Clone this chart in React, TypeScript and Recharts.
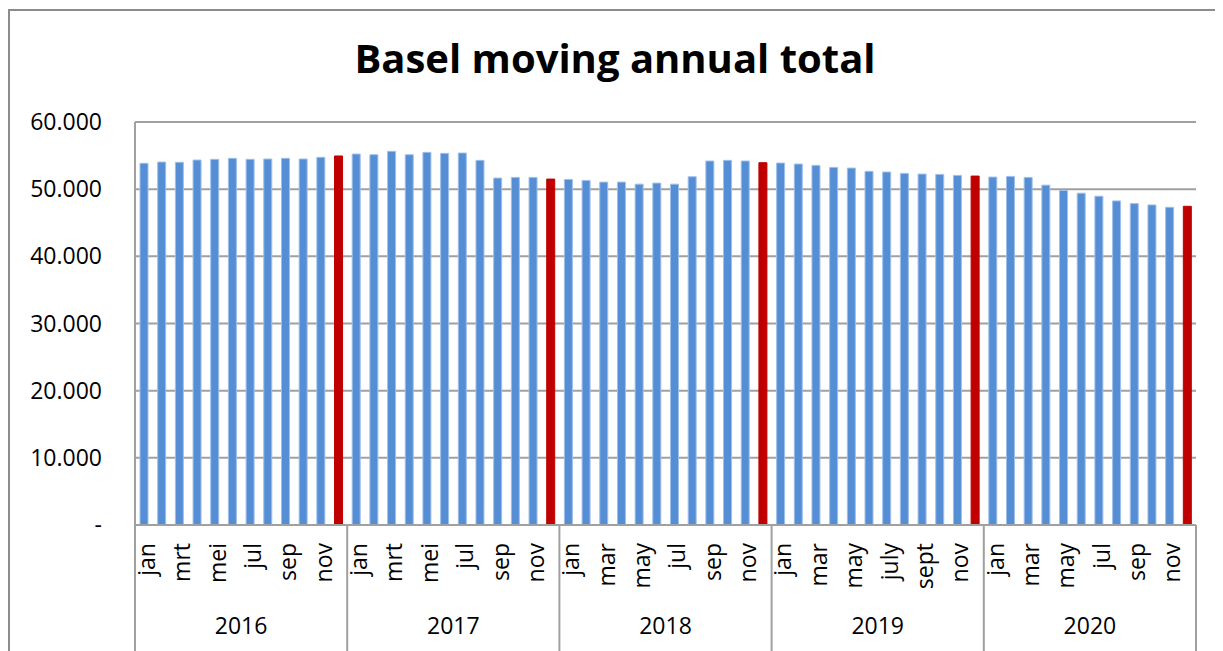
import React from "react";
import { BarChart, Bar, XAxis, YAxis, CartesianGrid, Cell } from "recharts";

const years = ["2016", "2017", "2018", "2019", "2020"];

const months2016 = ["jan", "feb", "mrt", "apr", "mei", "jun", "jul", "aug", "sep", "okt", "nov", "dec"];
const months2017 = ["jan", "feb", "mrt", "apr", "mei", "jun", "jul", "aug", "sep", "okt", "nov", "dec"];
const months2018 = ["jan", "feb", "mar", "apr", "may", "jun", "jul", "aug", "sep", "oct", "nov", "dec"];
const months2019 = ["jan", "feb", "mar", "apr", "may", "jun", "july", "aug", "sept", "oct", "nov", "dec"];
const months2020 = ["jan", "feb", "mar", "apr", "may", "jun", "jul", "aug", "sep", "oct", "nov", "dec"];

const values2016 = [53850, 54040, 54000, 54340, 54440, 54590, 54440, 54490, 54590, 54490, 54740, 54940];
const values2017 = [55230, 55130, 55630, 55130, 55480, 55330, 55380, 54290, 51650, 51750, 51750, 51500];
const values2018 = [51450, 51300, 51050, 51050, 50750, 50900, 50750, 51850, 54190, 54290, 54190, 53940];
const values2019 = [53890, 53740, 53540, 53240, 53140, 52650, 52550, 52350, 52250, 52200, 52050, 51950];
const values2020 = [51800, 51900, 51750, 50600, 49800, 49400, 48950, 48250, 47850, 47650, 47300, 47450];

const yTicks = [0, 10000, 20000, 30000, 40000, 50000, 60000];

const monthsByYear = [months2016, months2017, months2018, months2019, months2020];
const valuesByYear = [values2016, values2017, values2018, values2019, values2020];

const data = years.flatMap((yr, yi) =>
  monthsByYear[yi].map((m, mi) => ({
    key: `${yr}-${mi}`,
    year: yr,
    month: m,
    monthIndex: mi,
    value: valuesByYear[yi][mi],
  }))
);

const BLUE = "#558ED5";
const RED = "#C00000";
const GRID = "#a0a0a0";
const FRAME = "#8c8c8c";
const FONT = "'Open Sans', sans-serif";

const formatY = (v: number) => {
  if (v === 0) return "-";
  const s = String(Math.round(v));
  return s.replace(/\B(?=(\d{3})+(?!\d))/g, ".");
};

const CategoryTick = (props: any) => {
  const { x, y, index, payload } = props;
  const d = data[index];
  if (!d) return null;
  const half = payload && payload.offset ? payload.offset : 8.84;
  const axisH = 126;
  const els: any[] = [];
  if (d.monthIndex % 2 === 0) {
    const px = x + 11;
    const py = y + 18;
    els.push(
      <text
        key="m"
        x={px}
        y={py}
        textAnchor="end"
        transform={`rotate(-90, ${px}, ${py})`}
        fontFamily={FONT}
        fontSize={23}
        fill="#000"
      >
        {d.month}
      </text>
    );
  }
  if (d.monthIndex === 5) {
    els.push(
      <text key="y" x={x + half} y={y + 109} textAnchor="middle" fontFamily={FONT} fontSize={23} fill="#000">
        {d.year}
      </text>
    );
  }
  if (d.monthIndex === 0) {
    els.push(<line key="s" x1={x - half} x2={x - half} y1={y} y2={y + axisH} stroke={GRID} strokeWidth={2} />);
  }
  if (index === data.length - 1) {
    els.push(<line key="e" x1={x + half} x2={x + half} y1={y} y2={y + axisH} stroke={GRID} strokeWidth={2} />);
  }
  return <g>{els}</g>;
};

export default function App() {
  return (
    <div style={{ width: 1207, height: 643, position: "relative", overflow: "visible" }}>
      <div
        style={{
          position: "absolute",
          left: -8,
          top: 22,
          width: 1230,
          textAlign: "center",
          fontFamily: FONT,
          fontWeight: 700,
          fontSize: 40,
          color: "#000",
          lineHeight: "56px",
        }}
      >
        Basel moving annual total
      </div>
      <div style={{ position: "absolute", left: -8, top: -8 }}>
        <BarChart
          width={1223}
          height={651}
          data={data}
          margin={{ top: 122, right: 27, left: 0, bottom: 0 }}
          barSize={8}
        >
          <CartesianGrid vertical={false} stroke={GRID} strokeWidth={2} />
          <YAxis
            type="number"
            domain={[0, 60000]}
            ticks={yTicks}
            width={135}
            tickFormatter={formatY}
            tickLine={false}
            tickSize={0}
            tickMargin={33}
            axisLine={{ stroke: GRID, strokeWidth: 2 }}
            tick={{ fontFamily: FONT, fontSize: 23, fill: "#000" }}
            interval={0}
          />
          <XAxis
            dataKey="key"
            type="category"
            height={126}
            interval={0}
            tickLine={false}
            tickSize={0}
            tickMargin={0}
            axisLine={{ stroke: GRID, strokeWidth: 2 }}
            tick={<CategoryTick />}
          />
          <Bar dataKey="value" isAnimationActive={false} stroke="#9dc0ea" strokeWidth={1}>
            {data.map((d) => (
              <Cell key={d.key} fill={d.monthIndex === 11 ? RED : BLUE} stroke={d.monthIndex === 11 ? RED : "#9dc0ea"} />
            ))}
          </Bar>
        </BarChart>
      </div>
      <div style={{ position: "absolute", left: -1, top: 1, width: 1220, height: 2, background: FRAME }} />
      <div style={{ position: "absolute", left: -1, top: 1, width: 3, height: 642, background: FRAME }} />
    </div>
  );
}
